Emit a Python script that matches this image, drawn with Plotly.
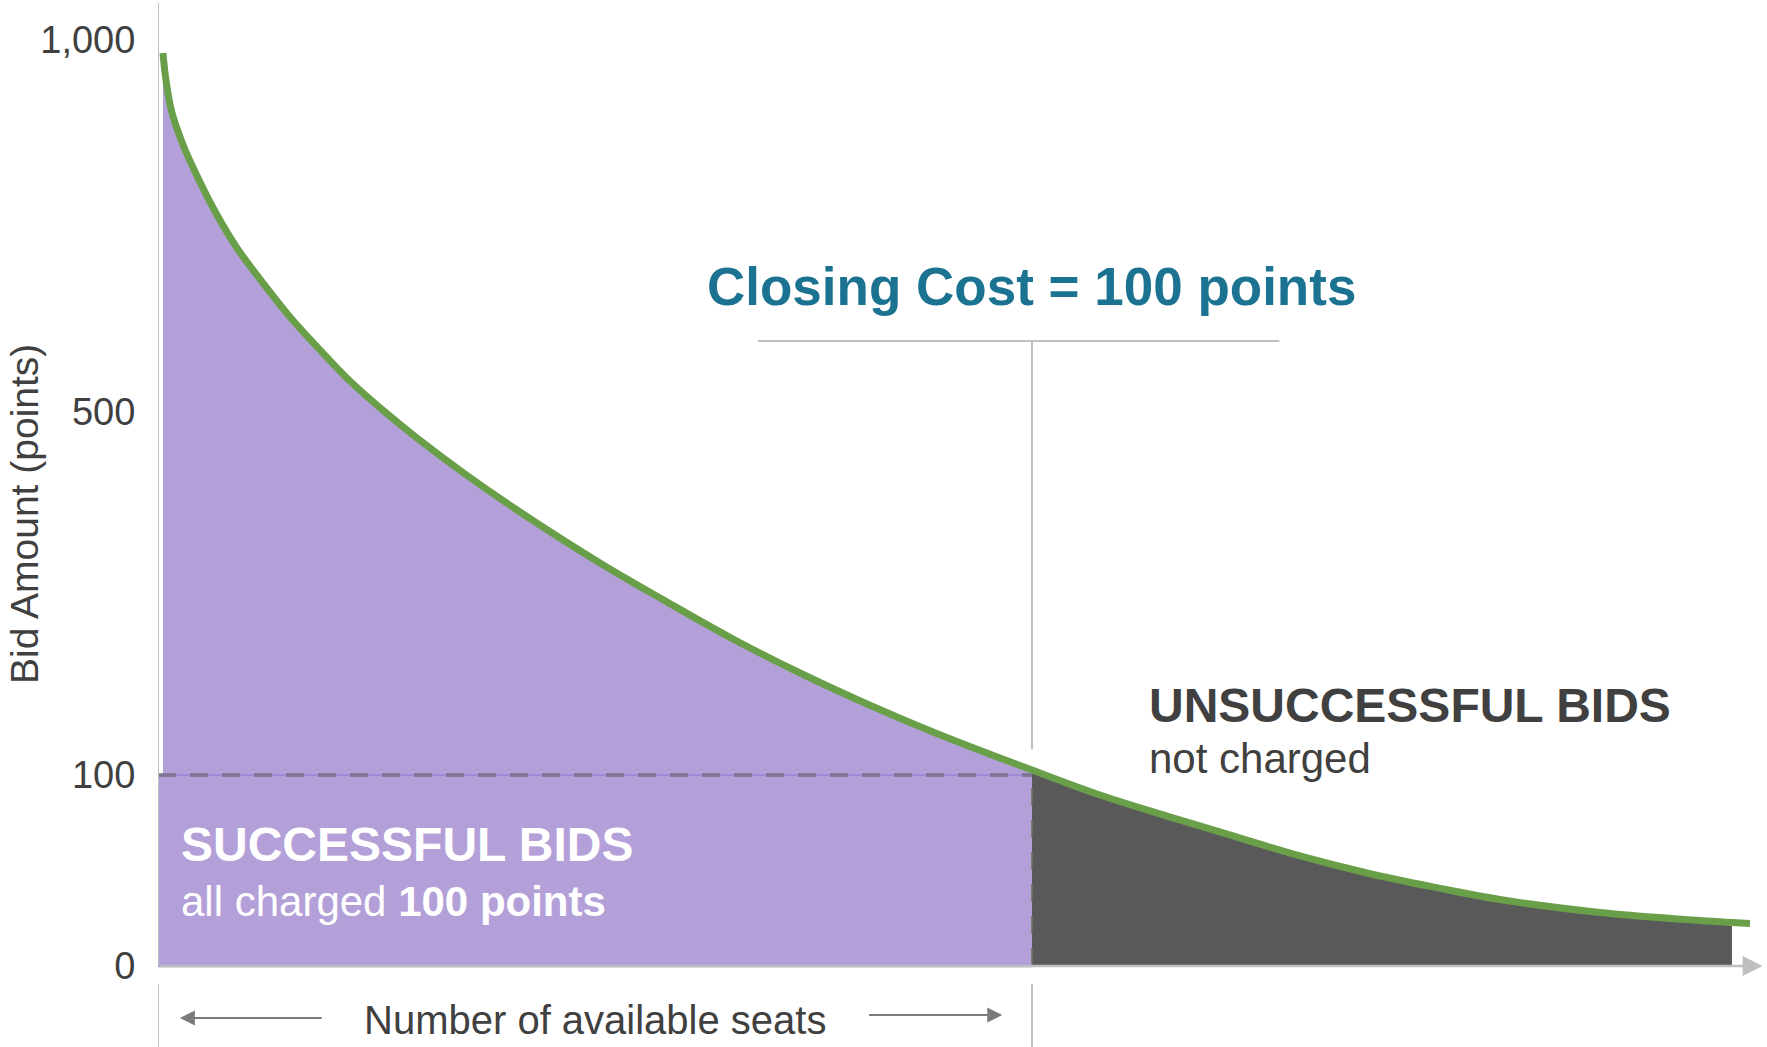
import numpy as np
import plotly.graph_objects as go

# ---- data ----
# seats: position along the horizontal axis (100 = number of available seats)
seats = [0.57, 0.88, 1.57, 2.92, 4.69, 6.69, 9.04, 12.01, 15.10, 18.54, 22.08, 25.97,
         29.63, 35.13, 41.08, 50.57, 58.24, 65.79, 73.46, 81.12, 88.67, 96.34, 100.0,
         107.78, 115.45, 123.0, 130.66, 138.33, 145.88, 153.55, 164.99, 176.43, 180.09,
         182.15]
# bids: bid amount (points) of the demand curve at each seat position
bids = [982.0, 948.5, 902.9, 857.2, 811.6, 766.0, 720.3, 673.3, 627.7, 583.4, 540.4,
        500.1, 471.5, 431.8, 392.1, 333.7, 290.7, 249.9, 212.4, 178.3, 147.4, 118.7,
        105.5, 89.5, 78.5, 68.1, 57.6, 48.7, 41.4, 34.8, 28.0, 23.8, 22.8, 22.3]

tick_bids = [0, 100, 500, 1000]
tick_text = ["0", "100", "500", "1,000"]
tick_pos = [0, 1, 2.9, 4.85]          # schematic (non-linear) axis positions

closing_cost = 100
available_seats = 100
last_bid_seat = 180.09

# ---- helpers ----
def to_disp(b):
    return np.interp(b, tick_bids, tick_pos)

x = np.array(seats)
y = to_disp(np.array(bids))
y_close = float(to_disp(closing_cost))

PURPLE = "#b4a0d8"
DARK = "#595959"
GREEN = "#6a9f4a"
AXIS = "#bfbfbf"
TEXT = "#404040"
TEAL = "#1b7391"
FONT = "Liberation Sans, Arial, sans-serif"
SPL = dict(shape="spline", smoothing=1.0)

fig = go.Figure()

m1 = x <= available_seats
fig.add_trace(go.Scatter(x=x[m1], y=y[m1], mode="lines", fill="tozeroy",
                         fillcolor=PURPLE, line=dict(width=0, **SPL), hoverinfo="skip"))
m2 = (x >= available_seats) & (x <= last_bid_seat)
fig.add_trace(go.Scatter(x=x[m2], y=y[m2], mode="lines", fill="tozeroy",
                         fillcolor=DARK, line=dict(width=0, **SPL), hoverinfo="skip"))
# rectangle of successful bids (purple below closing cost)
fig.add_trace(go.Scatter(x=[0, available_seats, available_seats, 0, 0],
                         y=[0, 0, y_close, y_close, 0], mode="lines", fill="toself",
                         fillcolor=PURPLE, line=dict(width=0), hoverinfo="skip"))
# closing-cost level and edges
fig.add_trace(go.Scatter(x=[0, available_seats], y=[y_close, y_close], mode="lines",
                         line=dict(color="#9a82d6", width=1.5), hoverinfo="skip"))
fig.add_trace(go.Scatter(x=[0, available_seats], y=[y_close, y_close], mode="lines",
                         line=dict(color="rgba(120,110,130,0.75)", width=4, dash="18px,14px"),
                         hoverinfo="skip"))
fig.add_trace(go.Scatter(x=[available_seats, available_seats], y=[0, y_close], mode="lines",
                         line=dict(color="rgba(100,120,90,0.8)", width=2, dash="18px,14px"),
                         hoverinfo="skip"))
fig.add_trace(go.Scatter(x=[0, available_seats], y=[0, 0], mode="lines",
                         line=dict(color="#9c86cc", width=2.5), hoverinfo="skip"))
# demand curve
fig.add_trace(go.Scatter(x=x, y=y, mode="lines",
                         line=dict(color=GREEN, width=7, **SPL), hoverinfo="skip"))

shapes = [
    # y axis
    dict(type="line", xref="x", yref="y", x0=0, x1=0, y0=0, y1=5.042,
         line=dict(color=AXIS, width=2), layer="above"),
    # closing cost marker
    dict(type="line", xref="x", yref="y", x0=available_seats, x1=available_seats,
         y0=1.136, y1=3.272, line=dict(color=AXIS, width=2), layer="above"),
    dict(type="line", xref="x", yref="y", x0=68.65, x1=128.3, y0=3.272, y1=3.272,
         line=dict(color=AXIS, width=2), layer="above"),
    # bracket ticks below axis
    dict(type="line", xref="x", yref="y", x0=0, x1=0, y0=-0.094, y1=-0.43,
         line=dict(color=AXIS, width=2), layer="above"),
    dict(type="line", xref="x", yref="y", x0=available_seats, x1=available_seats,
         y0=-0.094, y1=-0.43, line=dict(color=AXIS, width=2), layer="above"),
]

annotations = [
    # x axis with arrow
    dict(x=183.6, y=0, ax=0, ay=0, xref="x", yref="y", axref="x", ayref="y", text="",
         showarrow=True, arrowhead=2, arrowsize=1.6, arrowwidth=2.5, arrowcolor=AXIS,
         standoff=0, startstandoff=0),
    # seats arrows
    dict(x=2.5, y=-0.272, ax=18.9, ay=-0.272, xref="x", yref="y", axref="x", ayref="y",
         text="", showarrow=True, arrowhead=2, arrowsize=1.5, arrowwidth=2,
         arrowcolor="#7a7a7a", standoff=0, startstandoff=0),
    dict(x=96.6, y=-0.257, ax=81.2, ay=-0.257, xref="x", yref="y", axref="x", ayref="y",
         text="", showarrow=True, arrowhead=2, arrowsize=1.5, arrowwidth=2,
         arrowcolor="#7a7a7a", standoff=0, startstandoff=0),
    dict(x=50.0, y=-0.283, xref="x", yref="y", text="Number of available seats",
         showarrow=False, font=dict(family=FONT, size=40, color=TEXT),
         xanchor="center", yanchor="middle"),
    dict(x=available_seats, y=3.56, xref="x", yref="y",
         text="<b>Closing Cost = 100 points</b>", showarrow=False,
         font=dict(family=FONT, size=53, color=TEAL), xanchor="center", yanchor="middle"),
    dict(x=113.2, y=1.366, xref="x", yref="y", text="<b>UNSUCCESSFUL BIDS</b>",
         showarrow=False, font=dict(family=FONT, size=48, color=TEXT),
         xanchor="left", yanchor="middle"),
    dict(x=113.2, y=1.089, xref="x", yref="y", text="not charged",
         showarrow=False, font=dict(family=FONT, size=42, color=TEXT),
         xanchor="left", yanchor="middle"),
    dict(x=2.4, y=0.634, xref="x", yref="y", text="<b>SUCCESSFUL BIDS</b>",
         showarrow=False, font=dict(family=FONT, size=48, color="white"),
         xanchor="left", yanchor="middle"),
    dict(x=2.4, y=0.340, xref="x", yref="y", text="all charged <b>100 points</b>",
         showarrow=False, font=dict(family=FONT, size=42, color="white"),
         xanchor="left", yanchor="middle"),
    # y axis title
    dict(x=(24 - 158) / 1609, y=(1047 - 514) / 1047, xref="paper", yref="paper",
         text="Bid Amount (points)", textangle=-90, showarrow=False,
         font=dict(family=FONT, size=39, color=TEXT), xanchor="center", yanchor="middle"),
]

fig.update_layout(
    width=1767, height=1047,
    margin=dict(l=158, r=0, t=0, b=0),
    paper_bgcolor="white", plot_bgcolor="white",
    showlegend=False, hovermode=False,
    shapes=shapes, annotations=annotations,
    font=dict(family=FONT, color=TEXT),
)
fig.update_xaxes(range=[0, 184.1], visible=False, fixedrange=True)
fig.update_yaxes(range=[-0.4241, 5.0576], showgrid=False, zeroline=False, showline=False,
                 tickvals=list(to_disp(np.array(tick_bids))), ticktext=tick_text,
                 ticks="outside", ticklen=14, tickcolor="rgba(0,0,0,0)",
                 tickfont=dict(family=FONT, size=38, color=TEXT), fixedrange=True)

fig.write_html("out.html", config={"displayModeBar": False},
               post_script="document.body.style.margin='0';document.body.style.overflow='hidden';")
